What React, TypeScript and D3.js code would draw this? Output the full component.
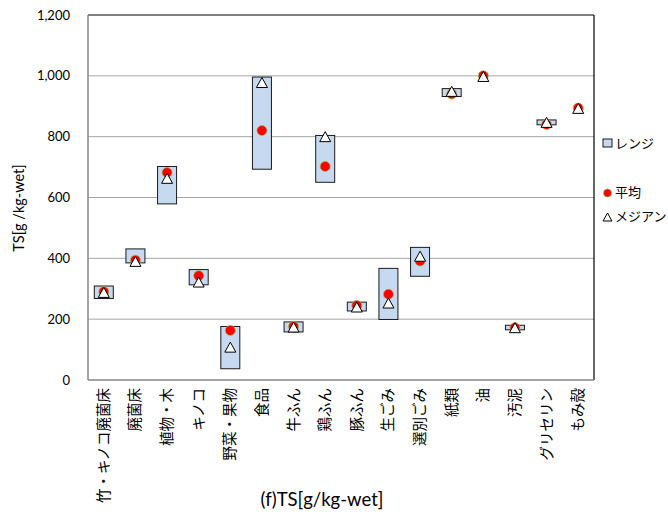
import React from "react";
import * as d3 from "d3";

// Materials and their TS statistics [g/kg-wet]
const categories = [
  "竹・キノコ廃菌床", "廃菌床", "植物・木", "キノコ", "野菜・果物", "食品", "牛ふん", "鶏ふん",
  "豚ふん", "生ごみ", "選別ごみ", "紙類", "油", "汚泥", "グリセリン", "もみ殻",
];
const rangeMin = [268, 385, 579, 313, 37, 693, 158, 650, 227, 199, 341, 932, 1000, 165, 839, 894];
const rangeMax = [309, 431, 702, 363, 176, 996, 191, 804, 256, 367, 436, 958, 1000, 180, 855, 894];
const meanValues = [290, 394, 682, 343, 163, 820, 176, 702, 245, 282, 391, 940, 1000, 172, 840, 894];
const medianValues = [288, 390, 663, 322, 108, 978, 174, 800, 240, 253, 407, 949, 998, 172, 847, 893];
const yTicks = [0, 200, 400, 600, 800, 1000, 1200];

const W = 668;
const H = 527;
const plot = { left: 88, right: 594, top: 15, bottom: 380 };
const latin = "Lato, 'Open Sans', sans-serif";
const cjk = "'Noto Sans CJK JP', sans-serif";

export default function App() {
  const x = d3.scaleBand<string>().domain(categories).range([plot.left, plot.right]).padding(0);
  const y = d3.scaleLinear().domain([0, 1200]).range([plot.bottom, plot.top]);
  const fmt = d3.format(",");
  const boxW = 19;
  const tri = (cx: number, cy: number, w = 11, h = 10) =>
    `M${cx},${cy - h / 2}L${cx + w / 2},${cy + h / 2}L${cx - w / 2},${cy + h / 2}Z`;

  return (
    <svg width={W} height={H} style={{ position: "absolute", left: 0, top: 0 }}>
      <rect width={W} height={H} fill="#fff" />
      {/* gridlines */}
      {yTicks.slice(1, -1).map((t) => (
        <line key={t} x1={plot.left} x2={plot.right} y1={y(t)} y2={y(t)} stroke="#a6a6a6" strokeWidth={1} />
      ))}
      {/* frame */}
      <line x1={plot.left} x2={plot.right} y1={plot.top} y2={plot.top} stroke="#000" strokeWidth={1.2} />
      <line x1={plot.right} x2={plot.right} y1={plot.top} y2={plot.bottom} stroke="#000" strokeWidth={1.2} />
      <line x1={plot.left} x2={plot.left} y1={plot.top} y2={plot.bottom} stroke="#868686" strokeWidth={1.5} />
      <line x1={plot.left} x2={plot.right} y1={plot.bottom} y2={plot.bottom} stroke="#868686" strokeWidth={1.5} />

      {/* y tick labels */}
      {yTicks.map((t) => (
        <text key={t} x={70} y={y(t)} dy="0.35em" textAnchor="end" fontFamily={latin} fontSize={13} fill="#000">
          {fmt(t)}
        </text>
      ))}
      <text
        transform={`translate(24,208) rotate(-90)`}
        textAnchor="middle"
        fontFamily={latin}
        fontSize={14.5}
        fill="#000"
      >
        TS[g /kg-wet]
      </text>

      {/* range boxes */}
      {categories.map((c, i) => {
        const cx = x(c)! + x.bandwidth() / 2;
        const y0 = y(rangeMax[i]);
        const y1 = y(rangeMin[i]);
        if (y1 - y0 < 0.5) return null;
        return (
          <rect key={c} x={cx - boxW / 2} y={y0} width={boxW} height={y1 - y0} fill="#c6d9f1" stroke="#1a1a1a" strokeWidth={1} />
        );
      })}
      {/* means */}
      {categories.map((c, i) => {
        const cx = x(c)! + x.bandwidth() / 2;
        return <circle key={c} cx={cx} cy={y(meanValues[i])} r={5} fill="#ff0000" stroke="#9bbb59" strokeWidth={0.7} />;
      })}
      {/* medians */}
      {categories.map((c, i) => {
        const cx = x(c)! + x.bandwidth() / 2;
        return <path key={c} d={tri(cx, y(medianValues[i]))} fill="#fff" stroke="#000" strokeWidth={1} />;
      })}

      {/* category labels */}
      {categories.map((c) => {
        const cx = x(c)! + x.bandwidth() / 2;
        return (
          <text
            key={c}
            transform={`translate(${cx + 5},388) rotate(-90)`}
            textAnchor="end"
            fontFamily={cjk}
            fontSize={14.5}
            fill="#000"
          >
            {c}
          </text>
        );
      })}
      <text x={322} y={506} textAnchor="middle" fontFamily={`${latin}, ${cjk}`} fontSize={18.5} fill="#000">
        (f)TS[g/kg-wet]
      </text>

      {/* legend */}
      <rect x={603} y={139} width={9} height={8} fill="#c6d9f1" stroke="#1a1a1a" strokeWidth={1} />
      <text x={615} y={143} dy="0.35em" fontFamily={cjk} fontSize={13} fill="#000">レンジ</text>
      <circle cx={607.5} cy={193} r={4} fill="#ff0000" stroke="#9bbb59" strokeWidth={0.7} />
      <text x={615} y={192} dy="0.35em" fontFamily={cjk} fontSize={13} fill="#000">平均</text>
      <path d={tri(607.5, 217, 9, 8)} fill="#fff" stroke="#000" strokeWidth={1} />
      <text x={615} y={216} dy="0.35em" fontFamily={cjk} fontSize={13} fill="#000">メジアン</text>
    </svg>
  );
}
